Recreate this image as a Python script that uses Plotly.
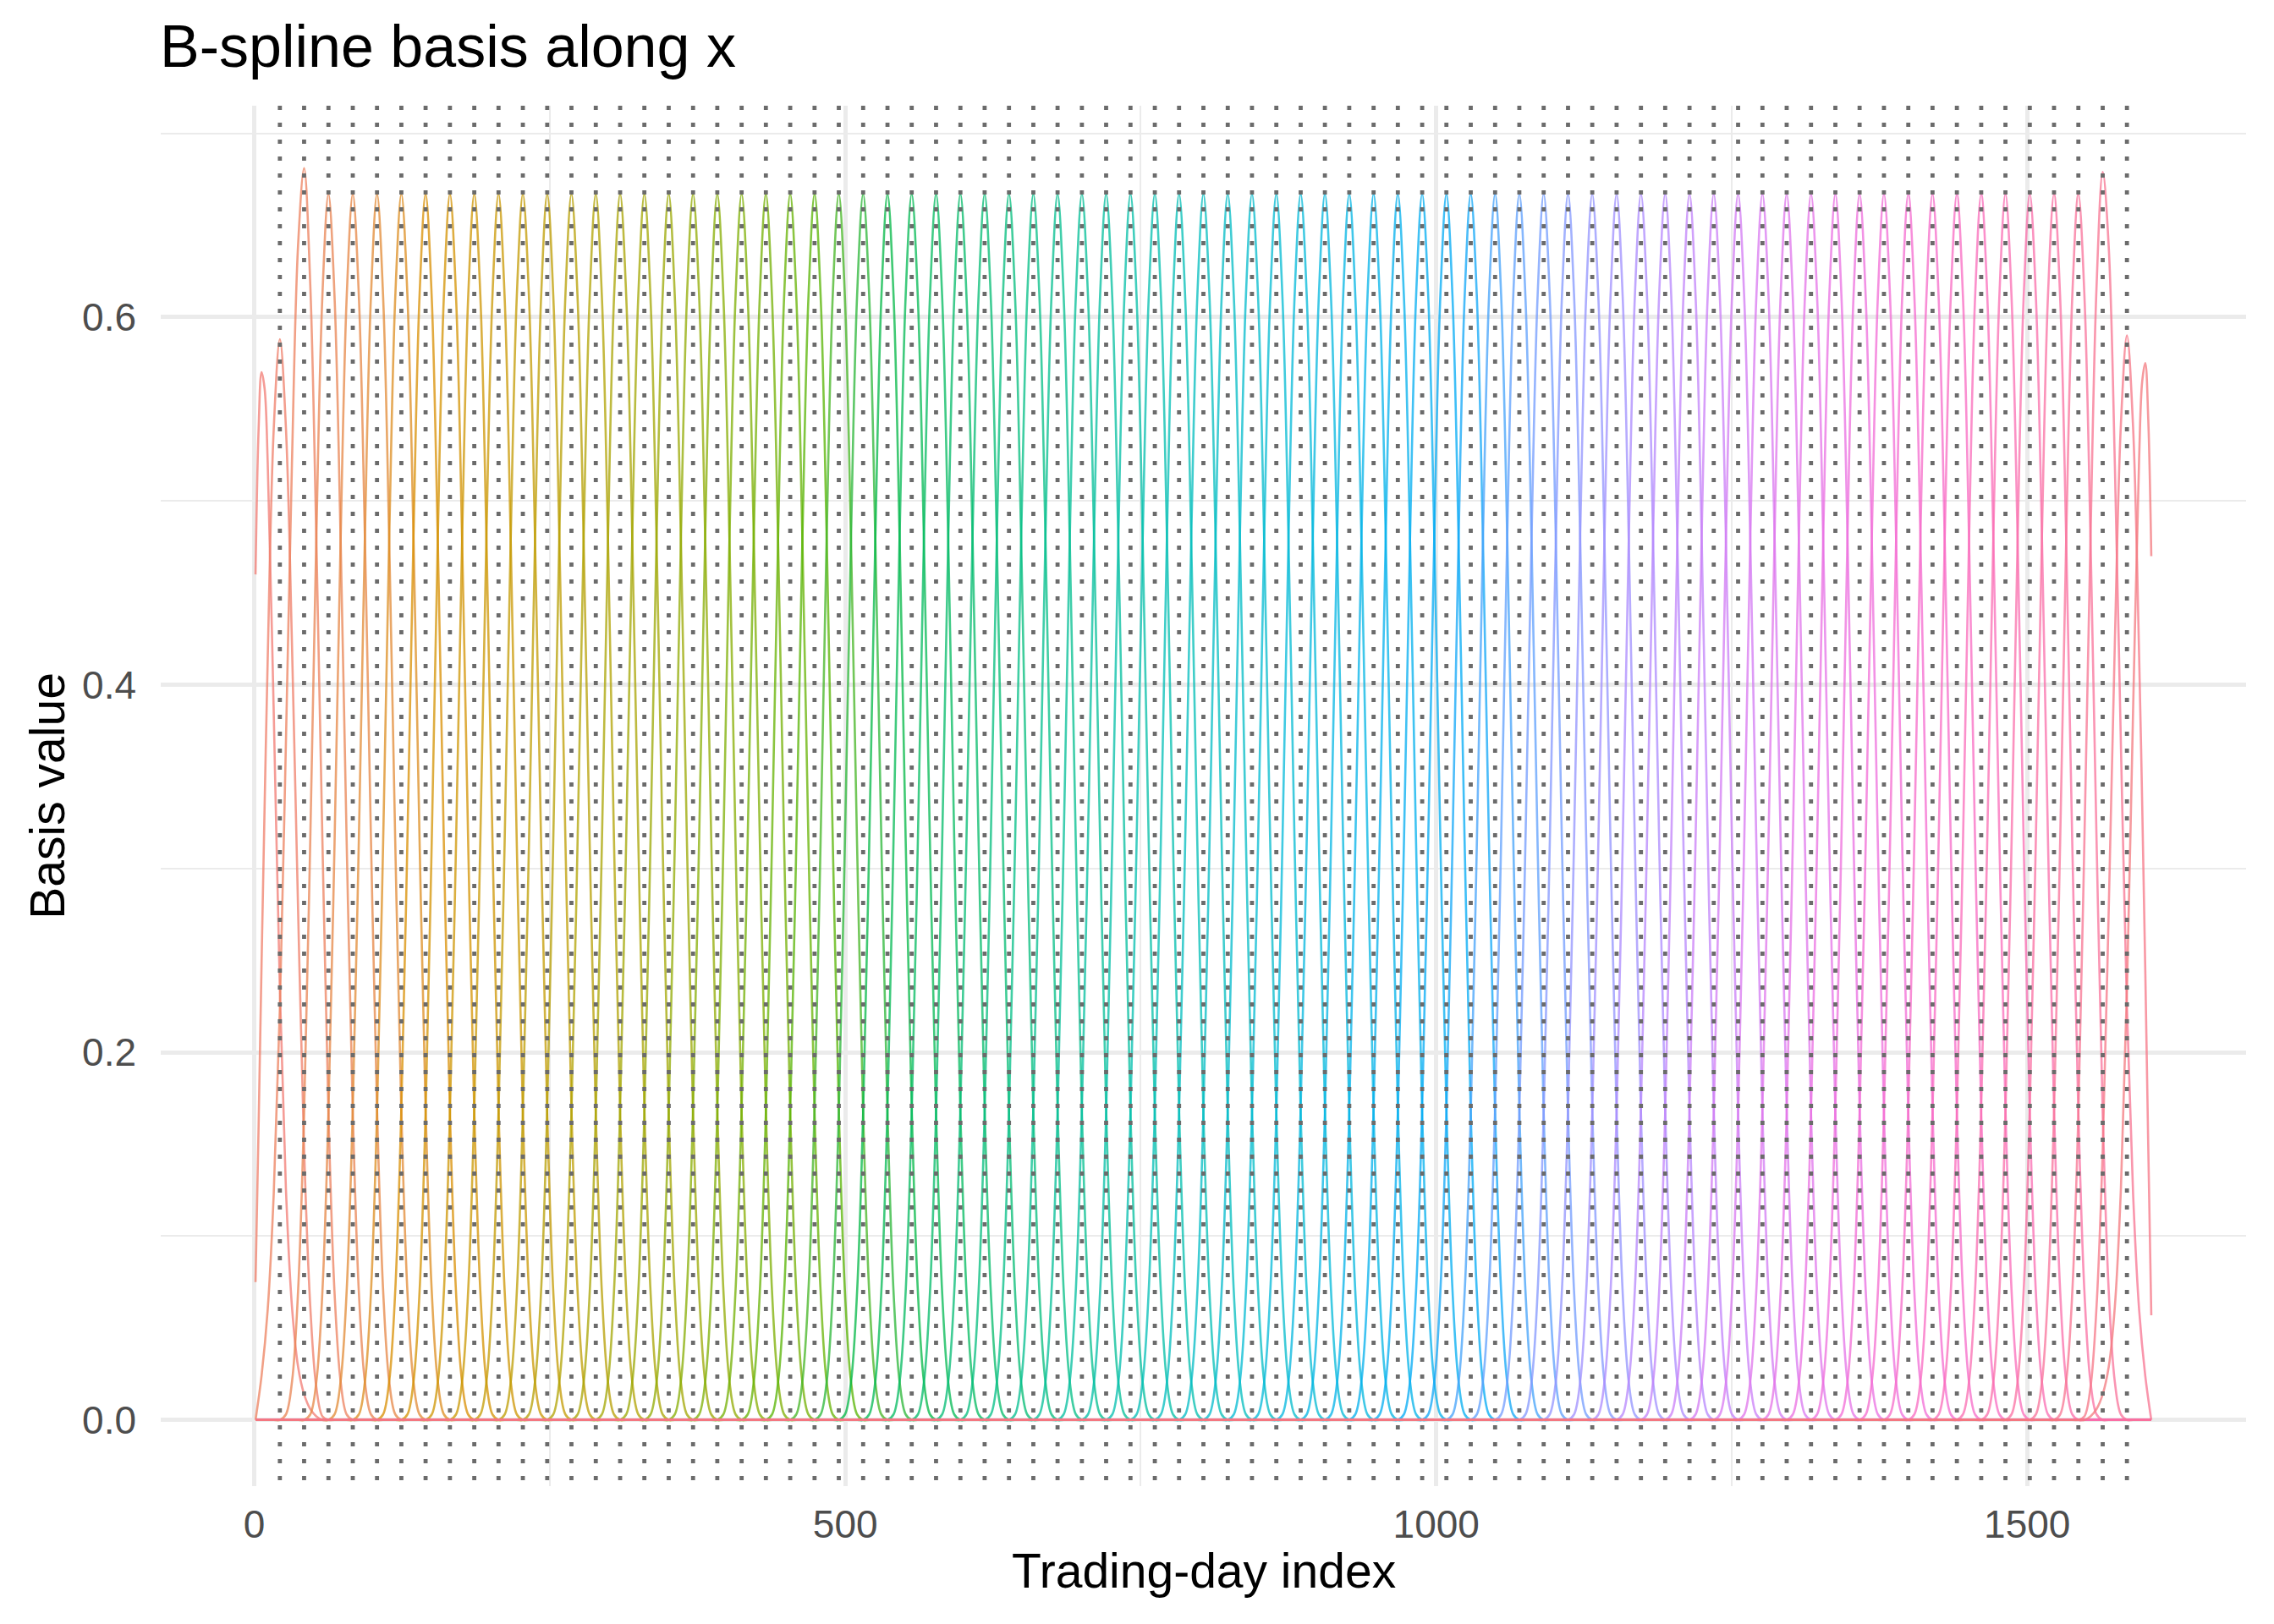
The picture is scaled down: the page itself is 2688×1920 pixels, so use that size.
import math
import plotly.graph_objects as go

# trading-day index range and the 77 interior knots (dotted lines)
x_start = 1
x_end = 1605
knots = [21.6, 42.1, 62.7, 83.3, 103.8, 124.4, 144.9, 165.5, 186.1, 206.6,
         227.2, 247.8, 268.3, 288.9, 309.5, 330.0, 350.6, 371.2, 391.7, 412.3,
         432.8, 453.4, 474.0, 494.5, 515.1, 535.7, 556.2, 576.8, 597.4, 617.9,
         638.5, 659.1, 679.6, 700.2, 720.7, 741.3, 761.9, 782.4, 803.0, 823.6,
         844.1, 864.7, 885.3, 905.8, 926.4, 947.0, 967.5, 988.1, 1008.6, 1029.2,
         1049.8, 1070.3, 1090.9, 1111.5, 1132.0, 1152.6, 1173.2, 1193.7, 1214.3, 1234.8,
         1255.4, 1276.0, 1296.5, 1317.1, 1337.7, 1358.2, 1378.8, 1399.4, 1419.9, 1440.5,
         1461.1, 1481.6, 1502.2, 1522.7, 1543.3, 1563.9, 1584.4]

# interior basis function, read around its peak knot (offset in days)
bump_offset = [-46.3, -41.1, -36.0, -30.8, -25.7, -20.6, -15.4, -10.3, -5.1, 0,
               5.1, 10.3, 15.4, 20.6, 25.7, 30.8, 36.0, 41.1, 46.3]
bump_value = [0, 0, 0.003, 0.021, 0.070, 0.167, 0.315, 0.479, 0.612, 0.667,
              0.612, 0.479, 0.315, 0.167, 0.070, 0.021, 0.003, 0, 0]

# boundary basis functions (offset in days from the boundary)
edge_offset = [0, 2.6, 5.1, 7.7, 10.3, 15.4, 20.6, 25.7, 30.8, 36.0, 41.1, 46.3,
               51.4, 56.6, 61.7, 66.8]
left_a = [0.46, 0.539, 0.570, 0.561, 0.521, 0.385, 0.234, 0.126, 0.062, 0.029,
          0.014, 0.006, 0.002, 0, 0, 0]
left_b = [0.075, 0.160, 0.248, 0.334, 0.414, 0.539, 0.588, 0.540, 0.423, 0.278,
          0.147, 0.062, 0.018, 0.002, 0, 0]
right_a = [0.47, 0.545, 0.575, 0.565, 0.523, 0.386, 0.234, 0.126, 0.062, 0.029,
           0.014, 0.006, 0.002, 0, 0, 0]
right_b = [0.057, 0.150, 0.245, 0.335, 0.416, 0.540, 0.590, 0.542, 0.424, 0.278,
           0.147, 0.062, 0.018, 0.002, 0, 0]

edge_c_offset = [0, 5.1, 10.3, 15.4, 20.6, 25.7, 30.8, 36.0, 41.1, 46.3, 51.4,
                 56.6, 61.7, 66.8, 72.0, 77.1, 82.3, 87.4]
left_c = [0, 0.024, 0.060, 0.123, 0.224, 0.368, 0.520, 0.639, 0.681, 0.618,
          0.481, 0.315, 0.167, 0.070, 0.021, 0.003, 0, 0]
right_c = [0, 0.024, 0.060, 0.123, 0.224, 0.367, 0.519, 0.638, 0.679, 0.617,
           0.481, 0.315, 0.167, 0.070, 0.021, 0.003, 0, 0]


def hue_colour(h, c=90, l=65, alpha=0.75):
    # ggplot-style hcl() colour
    hr = math.radians(h)
    u, v = c * math.cos(hr), c * math.sin(hr)
    xn, yn, zn = 95.047, 100.0, 108.883
    un = 4 * xn / (xn + 15 * yn + 3 * zn)
    vn = 9 * yn / (xn + 15 * yn + 3 * zn)
    Y = yn * ((l + 16) / 116) ** 3
    up, vp = u / (13 * l) + un, v / (13 * l) + vn
    X = Y * 9 * up / (4 * vp)
    Z = Y * (12 - 3 * up - 20 * vp) / (4 * vp)
    X, Y, Z = X / 100, Y / 100, Z / 100
    rgb = [3.240479 * X - 1.537150 * Y - 0.498535 * Z,
           -0.969256 * X + 1.875992 * Y + 0.041556 * Z,
           0.055648 * X - 0.204043 * Y + 1.057311 * Z]
    out = []
    for ch in rgb:
        ch = 12.92 * ch if ch <= 0.0031308 else 1.055 * ch ** (1 / 2.4) - 0.055
        out.append(int(round(min(max(ch, 0), 1) * 255)))
    return 'rgba(%d,%d,%d,%.2f)' % (out[0], out[1], out[2], alpha)


def full_line(xs, ys):
    xs, ys = list(xs), list(ys)
    if xs[0] > x_start:
        xs, ys = [x_start] + xs, [0] + ys
    if xs[-1] < x_end:
        xs, ys = xs + [x_end], ys + [0]
    return xs, ys


curves = []
for off, vals in [(edge_offset, left_a), (edge_offset, left_b), (edge_c_offset, left_c)]:
    curves.append(full_line([x_start + o for o in off], vals))
for k in knots[2:75]:
    curves.append(full_line([k + o for o in bump_offset], bump_value))
for off, vals in [(edge_c_offset, right_c), (edge_offset, right_b), (edge_offset, right_a)]:
    curves.append(full_line([x_end - o for o in off][::-1], vals[::-1]))

n = len(curves)
fig = go.Figure()
for i, (xs, ys) in enumerate(curves):
    fig.add_trace(go.Scatter(
        x=xs, y=ys, mode='lines',
        line=dict(color=hue_colour(15 + 360 * i / n), width=2.6, shape='spline'),
        hoverinfo='skip', showlegend=False
    ))

for k in knots:
    fig.add_shape(type='line', xref='x', yref='paper', x0=k, x1=k, y0=1, y1=0,
                  line=dict(color='#6b6b6b', width=4.8, dash='5px,15px'), layer='above')

grid = '#EBEBEB'
# page body has an 8px margin, so the figure is slightly smaller than the window
fig.update_layout(
    width=2680, height=1912,
    margin=dict(l=182, r=33, t=117, b=163),
    plot_bgcolor='white', paper_bgcolor='white',
    font=dict(family='Liberation Sans, Arial, sans-serif'),
    showlegend=False,
    xaxis=dict(range=[-79.2, 1685.2], tickvals=[0, 500, 1000, 1500],
               showgrid=True, gridcolor=grid, gridwidth=4.5, zeroline=False,
               showline=False, ticks='', tickfont=dict(size=46, color='#4D4D4D'),
               ticklabelstandoff=14, automargin=False,
               minor=dict(tick0=0, dtick=250, showgrid=True, gridcolor=grid, gridwidth=2.2)),
    yaxis=dict(range=[-0.036, 0.715], tickvals=[0, 0.2, 0.4, 0.6],
               ticktext=['0.0', '0.2', '0.4', '0.6'],
               showgrid=True, gridcolor=grid, gridwidth=4.5, zeroline=False,
               showline=False, ticks='', tickfont=dict(size=46, color='#4D4D4D'),
               ticklabelstandoff=28, automargin=False,
               minor=dict(tick0=0, dtick=0.1, showgrid=True, gridcolor=grid, gridwidth=2.2)),
    annotations=[
        dict(text='B-spline basis along x', xref='paper', yref='paper', x=0, y=1.043,
             xanchor='left', yanchor='middle', showarrow=False, xshift=-3,
             font=dict(size=70, color='black')),
        dict(text='Trading-day index', xref='paper', yref='paper', x=0.5, y=-0.0613,
             xanchor='center', yanchor='middle', showarrow=False,
             font=dict(size=57, color='black')),
        dict(text='Basis value', xref='paper', yref='paper', x=-0.0545, y=0.5,
             xanchor='center', yanchor='middle', showarrow=False, textangle=-90,
             font=dict(size=57, color='black')),
    ],
)

fig.write_html("out.html")
